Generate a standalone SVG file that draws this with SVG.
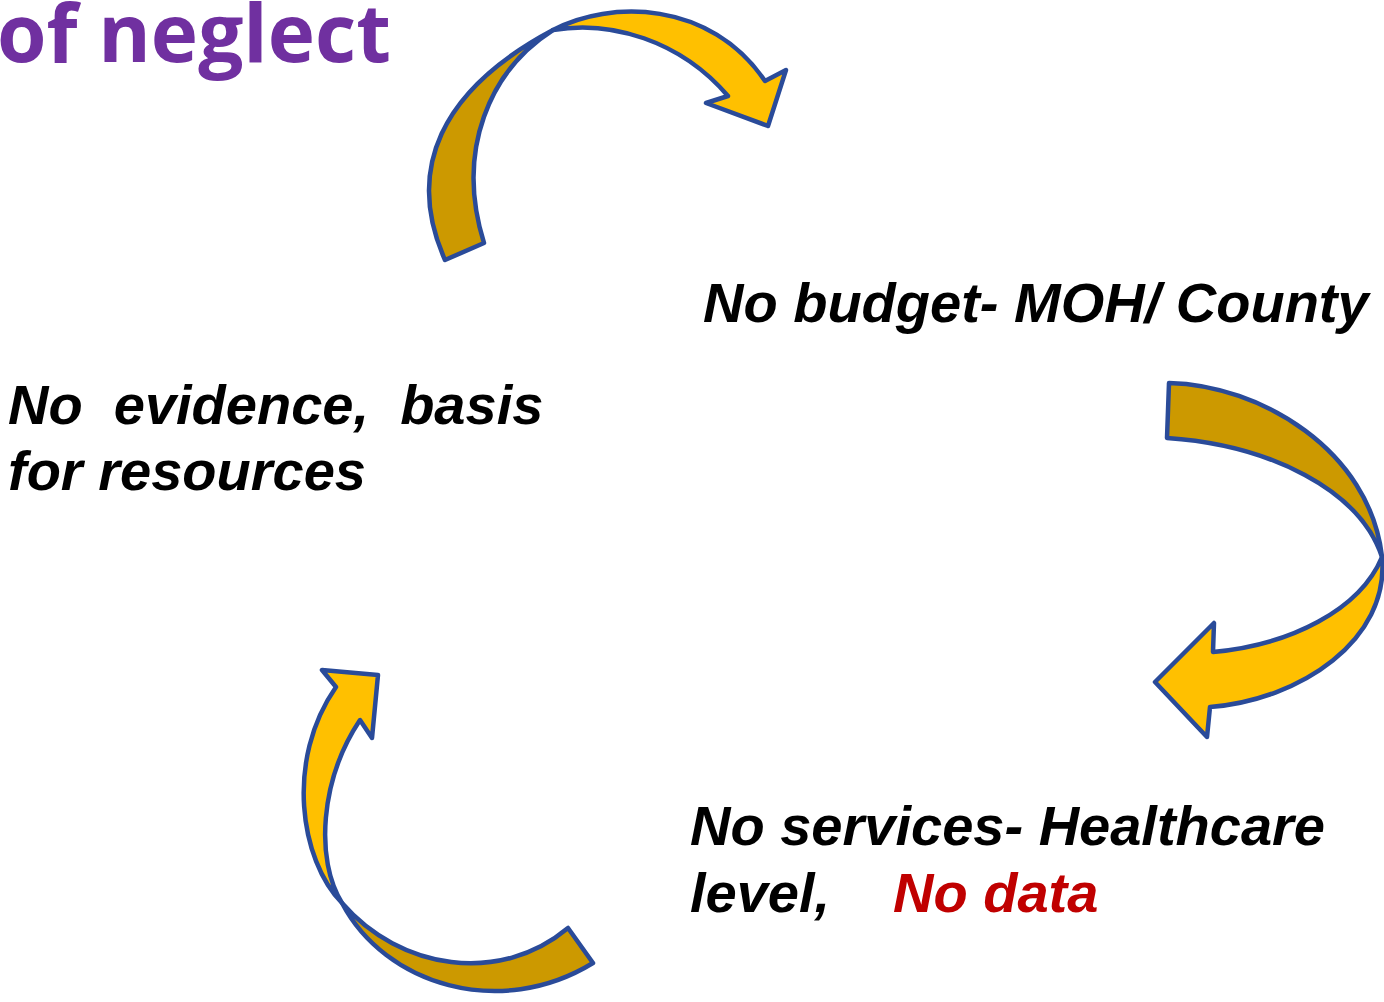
<svg xmlns="http://www.w3.org/2000/svg" width="1384" height="1002" viewBox="0 0 1384 1002">
<style>
.lt{fill:#FFC000;stroke:#2A4B99;stroke-width:4.5;stroke-linejoin:round}
.dk{fill:#CC9900;stroke:#2A4B99;stroke-width:4.5;stroke-linejoin:round}
.lbl{font-family:"Liberation Sans",Arial,sans-serif;font-weight:bold;font-style:italic;font-size:56px;fill:#000}
.ttl{font-family:"Open Sans","Noto Sans",sans-serif;font-weight:bold;font-size:80px;fill:#7030A0}
</style>
<rect width="1384" height="1002" fill="#fff"/>
<g id="title"><text class="ttl" x="-3" y="62">of neglect</text></g>
<g id="connectors">
<g id="arrow-top">
<path class="dk" d="M445,260 C405,170 440,90 553,30 C490,70 455,150 484,243 Z"/>
<path class="lt" d="M553,30 C610,0 710,0 765,81 L786,70 L768,126 L706,103 L728,96 C680,40 610,20 553,30 Z"/>
</g>
<g id="arrow-right">
<path class="dk" d="M1169,383 C1260,385 1370,450 1382,557 C1360,490 1270,445 1167,438 Z"/>
<path class="lt" d="M1382,557 C1390,640 1300,700 1210,707 L1207,737 L1155,682 L1214,623 L1213,652 C1290,645 1360,610 1382,557 Z"/>
</g>
<g id="arrow-bottom">
<path class="dk" d="M342,903 C385,985 500,1020 593,963 L568,928 C500,985 400,970 342,903 Z"/>
<path class="lt" d="M336,687 L322,670 L378,675 L372,738 L360,720 C320,780 315,860 342,903 C300,860 285,760 336,687 Z"/>
</g>
</g>
<g id="node-budget"><text class="lbl" x="703" y="322">No budget- MOH/ County</text></g>
<g id="node-evidence"><text class="lbl" x="8" y="424" xml:space="preserve">No  evidence,  basis</text><text class="lbl" x="8" y="490">for resources</text></g>
<g id="node-services"><text class="lbl" x="690" y="845">No services- Healthcare</text><text class="lbl" x="690" y="912">level,<tspan x="893" fill="#C00000">No data</tspan></text></g>
</svg>
